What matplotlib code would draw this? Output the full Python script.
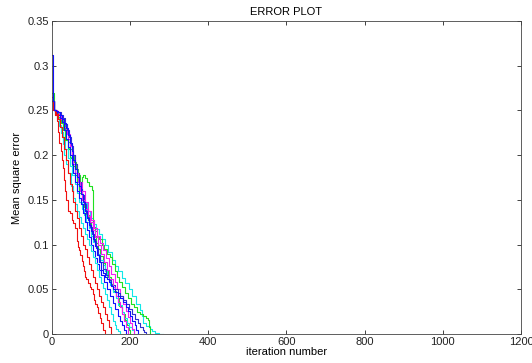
import matplotlib
matplotlib.use('Agg')
import matplotlib.pyplot as plt

plt.rcParams['font.family'] = ['Liberation Sans', 'DejaVu Sans']

# error curves: (iteration, mse)
red1_x = [0, 3, 8, 12, 16, 19, 22, 25, 28, 31, 33, 37, 41, 45, 50, 55, 59, 63, 67, 70, 72, 76, 79, 82, 84, 88,
          92, 97, 100, 104, 107, 110, 114, 118, 123, 126, 131, 135]
red1_y = [.265, .25, .245, .238, .226, .214, .205, .195, .186, .172, .16, .15, .138, .135, .128, .124, .118, .104,
          .097, .094, .088, .082, .076, .07, .064, .062, .057, .052, .05, .045, .038, .034, .03, .024, .018, .012,
          .004, 0]

red2_x = [0, 4, 10, 15, 20, 25, 30, 35, 40, 45, 50, 55, 60, 65, 70, 75, 80, 85, 90, 95, 100, 105, 110, 115, 120,
          125, 130, 135, 140, 145, 152]
red2_y = [.26, .25, .246, .24, .232, .22, .207, .194, .18, .168, .16, .148, .138, .13, .118, .11, .1, .095, .086,
          .078, .072, .064, .057, .05, .042, .036, .03, .022, .016, .008, 0]

blue1_x = [0, 2, 5, 10, 15, 20, 25, 30, 35, 40, 45, 50, 55, 60, 65, 70, 75, 80, 85, 90, 95, 100, 105, 110, 115,
           120, 125, 130, 135, 140, 145, 150, 155, 160, 168, 175, 182, 190, 195, 200, 206, 212, 216, 220]
blue1_y = [.312, .26, .25, .249, .248, .245, .24, .236, .23, .222, .214, .205, .195, .185, .176, .165, .156, .148,
           .138, .13, .122, .115, .106, .098, .088, .08, .072, .068, .064, .062, .058, .054, .05, .047, .043, .04,
           .036, .03, .026, .02, .015, .01, .005, 0]

blue2_x = [0, 4, 10, 15, 22, 28, 33, 38, 43, 48, 53, 58, 63, 68, 73, 78, 83, 88, 93, 98, 103, 108, 113, 118, 124,
           130, 137, 145, 152, 160, 168, 175, 182, 190, 198, 205, 212, 220, 226, 232, 236, 240]
blue2_y = [.26, .25, .249, .248, .245, .242, .235, .228, .22, .21, .2, .19, .18, .17, .162, .155, .145, .135, .127,
           .12, .112, .104, .096, .088, .08, .073, .066, .06, .055, .05, .046, .042, .038, .033, .028, .022, .017,
           .012, .008, .005, .002, 0]

blue3_x = [0, 4, 9, 14, 20, 25, 30, 35, 40, 45, 50, 55, 60, 65, 70, 75, 80, 85, 90, 95, 100, 105, 110, 115, 120,
           125, 132, 140, 148, 155, 162, 170, 175, 180, 185, 190]
blue3_y = [.26, .25, .248, .245, .241, .237, .228, .218, .209, .2, .19, .18, .17, .16, .152, .145, .135, .125, .116,
           .108, .1, .093, .085, .078, .072, .066, .058, .05, .042, .035, .028, .02, .015, .01, .005, 0]

mag1_x = [0, 4, 10, 18, 24, 30, 35, 40, 45, 50, 55, 60, 66, 72, 78, 85, 91, 98, 104, 110, 117, 125, 132, 140, 147,
          155, 160, 165, 170, 175, 180, 185, 190, 195]
mag1_y = [.26, .25, .248, .245, .24, .232, .225, .218, .21, .2, .19, .18, .17, .16, .15, .14, .132, .125, .116, .108,
          .1, .09, .081, .072, .062, .052, .047, .042, .036, .03, .022, .015, .008, 0]

mag2_x = [0, 4, 12, 20, 26, 32, 38, 45, 51, 58, 64, 70, 77, 85, 92, 100, 107, 115, 122, 130, 137, 145, 152, 160,
          167, 175, 182, 190, 195, 200, 205, 210]
mag2_y = [.26, .25, .248, .245, .24, .235, .224, .212, .2, .19, .18, .17, .16, .148, .138, .128, .119, .11, .102,
          .094, .085, .076, .067, .058, .05, .042, .034, .026, .019, .012, .006, 0]

cyan1_x = [0, 3, 8, 12, 17, 22, 27, 32, 37, 42, 48, 55, 60, 65, 70, 75, 80, 85, 90, 95, 100, 105, 110, 115, 120,
           125, 130, 135, 140, 145, 150, 155, 160, 165, 170, 175]
cyan1_y = [.265, .25, .245, .24, .233, .225, .213, .2, .19, .18, .166, .152, .145, .138, .131, .124, .118, .112,
           .106, .1, .093, .086, .079, .072, .064, .057, .051, .045, .038, .03, .022, .015, .01, .006, .003, 0]

cyan2_x = [0, 4, 10, 16, 22, 28, 34, 40, 46, 52, 58, 64, 70, 76, 83, 90, 97, 105, 112, 120, 128, 135, 144, 153, 161,
           170, 178, 187, 196, 205, 215, 225, 230, 233, 240, 250, 257, 264, 275, 285]
cyan2_y = [.26, .25, .248, .245, .238, .23, .218, .208, .198, .19, .18, .17, .162, .155, .146, .138, .13, .123, .117,
           .112, .106, .1, .092, .083, .076, .07, .063, .057, .05, .042, .034, .027, .02, .012, .009, .006, .003,
           .001, .0005, 0]

cyan3_x = [0, 4, 9, 14, 19, 24, 29, 34, 40, 46, 52, 58, 64, 70, 76, 82, 88, 94, 100, 106, 112, 118, 124, 130, 136,
           142, 149, 156, 163, 170, 178, 185, 192, 198, 204, 210]
cyan3_y = [.26, .25, .246, .242, .234, .226, .216, .207, .197, .188, .178, .168, .158, .148, .14, .133, .125, .118,
           .11, .103, .096, .09, .083, .077, .07, .062, .055, .047, .04, .032, .025, .018, .012, .008, .004, 0]

green1_x = [0, 4, 10, 15, 20, 28, 34, 40, 46, 52, 57, 62, 67, 72, 76, 80, 85, 90, 96, 102, 104, 106, 110, 115, 120,
            128, 134, 141, 148, 154, 160, 166, 172, 179, 187, 195, 203, 210, 217, 225, 232, 240, 246, 249, 251]
green1_y = [.27, .25, .248, .245, .241, .235, .226, .215, .207, .2, .192, .185, .178, .17, .176, .178, .174, .17,
            .165, .161, .14, .12, .115, .11, .106, .1, .095, .09, .086, .078, .07, .064, .058, .053, .046, .04, .034,
            .03, .025, .022, .02, .018, .016, .008, 0]

green2_x = [0, 4, 10, 16, 22, 28, 34, 40, 46, 52, 58, 64, 70, 76, 82, 88, 94, 100, 106, 112, 118, 124, 130, 136,
            143, 150, 157, 165, 172, 180, 186, 192, 196, 200]
green2_y = [.26, .25, .247, .243, .236, .228, .217, .207, .197, .188, .178, .168, .158, .15, .142, .133, .125, .118,
            .11, .102, .095, .087, .079, .072, .064, .056, .048, .04, .031, .022, .016, .01, .005, 0]

curves = [
    (cyan2_x, cyan2_y, '#10e8e8'),
    (green1_x, green1_y, '#20e020'),
    (green2_x, green2_y, '#20e020'),
    (cyan3_x, cyan3_y, '#10e8e8'),
    (mag2_x, mag2_y, '#f020f0'),
    (blue2_x, blue2_y, '#3030d0'),
    (mag1_x, mag1_y, '#f020f0'),
    (blue3_x, blue3_y, '#1010ff'),
    (cyan1_x, cyan1_y, '#10e8e8'),
    (red2_x, red2_y, '#f01010'),
    (red1_x, red1_y, '#f01010'),
    (blue1_x, blue1_y, '#1010ff'),
]

xticks = [0, 200, 400, 600, 800, 1000, 1200]
yticks = [0, 0.05, 0.1, 0.15, 0.2, 0.25, 0.3, 0.35]
ytick_labels = ['0', '0.05', '0.1', '0.15', '0.2', '0.25', '0.3', '0.35']

fig = plt.figure(figsize=(5.32, 3.63), dpi=100)
ax = fig.add_axes([0.0977, 0.0799, 0.8816, 0.8623])

for cx, cy, col in curves:
    ax.plot(cx, cy, color=col, linewidth=0.8, drawstyle='steps-post')

ax.set_xlim(0, 1200)
ax.set_ylim(0, 0.35)
ax.set_xticks(xticks)
ax.set_xticklabels([str(t) for t in xticks])
ax.set_yticks(yticks)
ax.set_yticklabels(ytick_labels)
ax.tick_params(direction='in', length=3, width=0.6, labelsize=8,
               top=True, right=True, colors='#222222', pad=2)
for s in ax.spines.values():
    s.set_linewidth(0.6)
    s.set_color('#444444')

ax.set_title('ERROR PLOT', fontsize=8, pad=4)
ax.set_xlabel('iteration number', fontsize=8, labelpad=0)
ax.set_ylabel('Mean square error', fontsize=8, labelpad=4)

fig.savefig('out.png', dpi=100)
